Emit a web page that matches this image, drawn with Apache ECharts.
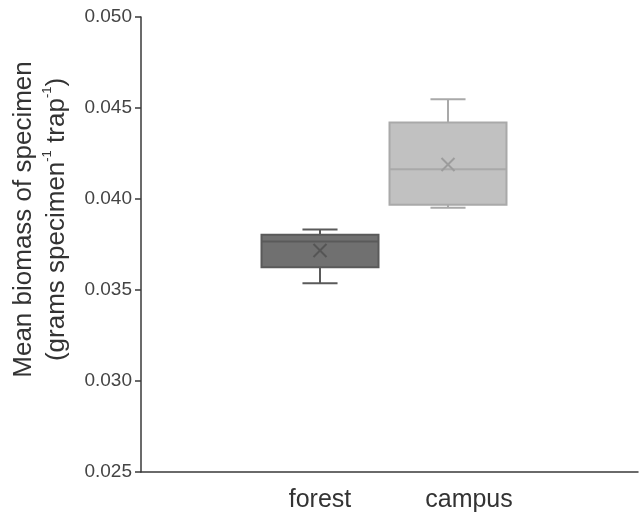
<!DOCTYPE html>
<html>
<head>
<meta charset="utf-8">
<script src="https://cdn.jsdelivr.net/npm/echarts@6/dist/echarts.min.js"></script>
<style>
    html, body { margin: 0; padding: 0; background: #fff; }
    #chart { width: 641px; height: 513px; }
</style>
</head>
<body>
<div id="chart"></div>
<script>
// data
var categories = ['forest', 'campus'];
var minVals    = [0.03537, 0.03952];
var q1Vals     = [0.03625, 0.03969];
var medianVals = [0.03767, 0.04163];
var q3Vals     = [0.03803, 0.04420];
var maxVals    = [0.03833, 0.04548];
var meanVals   = [0.03717, 0.04190];
var yTicks     = [0.025, 0.030, 0.035, 0.040, 0.045, 0.050];

var fillColors   = ['#707070', '#c1c1c1'];
var strokeColors = ['#5a5a5a', '#a9a9a9'];
var markColors   = ['#555555', '#9c9c9c'];
var FONT = 'Liberation Sans, Arial, sans-serif';

var chart = echarts.init(document.getElementById('chart'));

var boxData = categories.map(function (c, i) {
    return [i, minVals[i], q1Vals[i], medianVals[i], q3Vals[i], maxVals[i], meanVals[i]];
});

function renderBox(params, api) {
    var i = api.value(0);
    var band = api.size([1, 0])[0];
    var half = band * 0.457;
    var cap = band * 0.137;
    var pMin = api.coord([i, api.value(1)]);
    var pQ1 = api.coord([i, api.value(2)]);
    var pMed = api.coord([i, api.value(3)]);
    var pQ3 = api.coord([i, api.value(4)]);
    var pMax = api.coord([i, api.value(5)]);
    var pMean = api.coord([i, api.value(6)]);
    var cx = pQ1[0];
    var lineStyle = { stroke: strokeColors[i], lineWidth: 2 };
    var xs = 6.5;
    return {
        type: 'group',
        children: [
            { type: 'line', shape: { x1: cx, y1: pQ3[1], x2: cx, y2: pMax[1] }, style: lineStyle },
            { type: 'line', shape: { x1: cx, y1: pQ1[1], x2: cx, y2: pMin[1] }, style: lineStyle },
            { type: 'line', shape: { x1: cx - cap, y1: pMax[1], x2: cx + cap, y2: pMax[1] }, style: lineStyle },
            { type: 'line', shape: { x1: cx - cap, y1: pMin[1], x2: cx + cap, y2: pMin[1] }, style: lineStyle },
            {
                type: 'rect',
                shape: { x: cx - half, y: pQ3[1], width: half * 2, height: pQ1[1] - pQ3[1] },
                style: { fill: fillColors[i], stroke: strokeColors[i], lineWidth: 2 }
            },
            { type: 'line', shape: { x1: cx - half, y1: pMed[1], x2: cx + half, y2: pMed[1] }, style: lineStyle },
            { type: 'line', shape: { x1: pMean[0] - xs, y1: pMean[1] - xs, x2: pMean[0] + xs, y2: pMean[1] + xs }, style: { stroke: markColors[i], lineWidth: 2 } },
            { type: 'line', shape: { x1: pMean[0] - xs, y1: pMean[1] + xs, x2: pMean[0] + xs, y2: pMean[1] - xs }, style: { stroke: markColors[i], lineWidth: 2 } }
        ]
    };
}

chart.setOption({
    animation: false,
    grid: [
        { left: 141, right: 3, top: 17, bottom: 41, containLabel: false, outerBoundsMode: 'none' },
        { left: 256, right: 129, top: 17, bottom: 41, containLabel: false, outerBoundsMode: 'none' }
    ],
    xAxis: [
        {
            gridIndex: 0,
            type: 'value',
            min: 0,
            max: 1,
            axisLine: { lineStyle: { color: '#3a3a3a', width: 1.5 } },
            axisTick: { show: false },
            axisLabel: { show: false },
            splitLine: { show: false }
        },
        {
            gridIndex: 1,
            type: 'category',
            data: categories,
            axisLine: { show: false },
            axisTick: { show: false },
            axisLabel: {
                interval: 0,
                hideOverlap: false,
                margin: 16,
                fontSize: 25,
                color: '#333',
                fontFamily: FONT,
                formatter: function (v, i) {
                    return i === 1 ? '{c|' + v + '}' : v;
                },
                rich: {
                    c: { fontSize: 25, color: '#333', fontFamily: FONT, padding: [0, 0, 0, 42] }
                }
            }
        }
    ],
    yAxis: [
        {
            gridIndex: 0,
            type: 'value',
            min: yTicks[0],
            max: yTicks[yTicks.length - 1],
            interval: 0.005,
            axisLine: { show: true, lineStyle: { color: '#3a3a3a', width: 1.5 } },
            axisTick: { show: true, length: 6, lineStyle: { color: '#3a3a3a', width: 1.5 } },
            axisLabel: {
                margin: 9,
                fontSize: 19,
                color: '#444',
                fontFamily: FONT,
                formatter: function (v) { return v.toFixed(3); }
            },
            splitLine: { show: false },
            name: 'Mean biomass of specimen\n(grams specimen{sup|-1} trap{sup|-1})',
            nameLocation: 'middle',
            nameRotate: 90,
            nameGap: 61,
            nameTextStyle: {
                fontSize: 26,
                lineHeight: 33,
                color: '#333',
                fontFamily: FONT,
                padding: [0, 0, 0, 50],
                rich: {
                    sup: { fontSize: 13, lineHeight: 33, color: '#333', fontFamily: FONT, verticalAlign: 'top' }
                }
            }
        },
        {
            gridIndex: 1,
            type: 'value',
            min: yTicks[0],
            max: yTicks[yTicks.length - 1],
            show: false
        }
    ],
    series: [
        {
            type: 'custom',
            xAxisIndex: 1,
            yAxisIndex: 1,
            data: boxData,
            encode: { x: 0, y: [1, 2, 3, 4, 5, 6] },
            renderItem: renderBox
        }
    ]
});
</script>
</body>
</html>
